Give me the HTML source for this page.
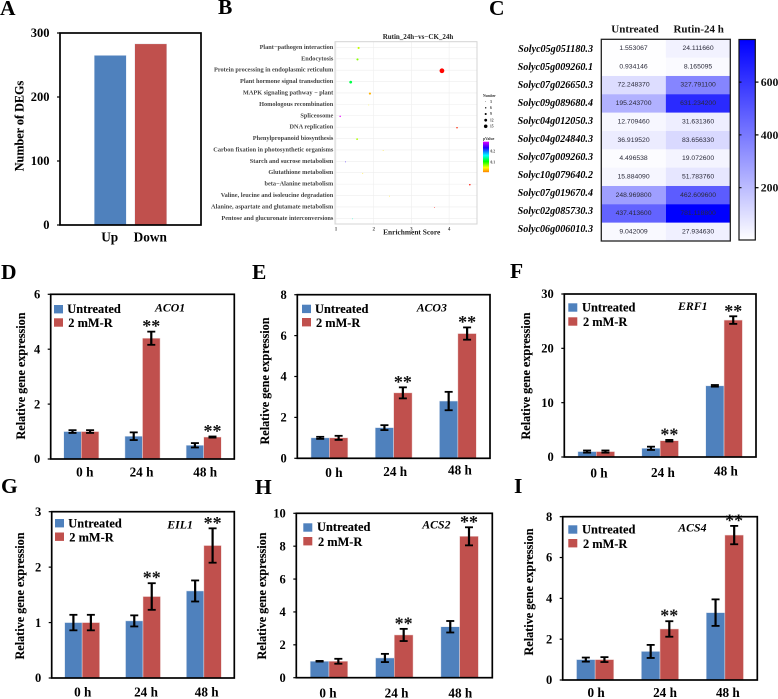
<!DOCTYPE html>
<html lang="en">
<head>
<meta charset="utf-8">
<title>Rutin treatment gene expression figure</title>
<style>
html,body{margin:0;padding:0;background:#fff;width:778px;height:699px;overflow:hidden}
svg{display:block;filter:blur(0.3px)}
text{font-family:"Liberation Serif",serif}
.letter{font-size:21.5px;font-weight:bold;fill:#000}
.ytitle{font-size:12.2px;font-weight:bold;fill:#000;text-anchor:middle;stroke:#000;stroke-width:0.12px}
.legend{font-size:12.4px;font-weight:bold;fill:#000;stroke:#000;stroke-width:0.12px}
.gene{font-size:11.8px;font-weight:bold;font-style:italic;fill:#000}
.swU{fill:#4f81bd}
.swR{fill:#c0504d}
</style>
</head>
<body>
<svg id="figure" xmlns="http://www.w3.org/2000/svg" width="778" height="699" viewBox="0 0 778 699">
<defs>
<linearGradient id="heatGradient" x1="0" y1="1" x2="0" y2="0"><stop offset="0" stop-color="#ffffff"/><stop offset="1" stop-color="#0000ff"/></linearGradient>
<linearGradient id="pGradient" x1="0" y1="1" x2="0" y2="0">
<stop offset="0" stop-color="#ff7f00"/><stop offset="0.15" stop-color="#ffff00"/><stop offset="0.35" stop-color="#00ff00"/><stop offset="0.55" stop-color="#00ffff"/><stop offset="0.8" stop-color="#2000ff"/><stop offset="1" stop-color="#e000ff"/>
</linearGradient>
</defs>

<text class="letter" x="0" y="15">A</text>
<text class="letter" x="218" y="14">B</text>
<text class="letter" x="489" y="15">C</text>
<text class="letter" x="1" y="279">D</text>
<text class="letter" x="252" y="279">E</text>
<text class="letter" x="510" y="278">F</text>
<text class="letter" x="1" y="493">G</text>
<text class="letter" x="255" y="494">H</text>
<text class="letter" x="514" y="493">I</text>

<text class="ytitle" transform="translate(23.5 126) rotate(-90)">Number of DEGs</text>
<text x="109.7" y="241.5" style="font-size:13.3px;font-weight:bold;text-anchor:middle">Up</text>
<text x="150.3" y="241.5" style="font-size:13.3px;font-weight:bold;text-anchor:middle">Down</text>

<text x="418" y="39" style="font-size:7px;font-weight:bold;text-anchor:middle;fill:#222">Rutin_24h−vs−CK_24h</text>
<text x="411.7" y="234.5" style="font-size:7.4px;font-weight:bold;text-anchor:middle;fill:#222">Enrichment Score</text>
<text x="483" y="97" style="font-size:3.6px;font-weight:bold;fill:#333">Number</text>
<text x="483" y="140" style="font-size:3.8px;font-weight:bold;fill:#333">pValue</text>
<rect x="483" y="141.7" width="6" height="30.5" fill="url(#pGradient)"/>
<text x="490.5" y="152.5" style="font-size:3.6px;font-weight:bold;fill:#333">0.2</text>
<text x="490.5" y="163.5" style="font-size:3.6px;font-weight:bold;fill:#333">0.1</text>

<text x="635" y="32.7" style="font-size:11px;font-weight:bold;text-anchor:middle;fill:#111">Untreated</text>
<text x="698.7" y="32.7" style="font-size:11px;font-weight:bold;text-anchor:middle;fill:#111">Rutin-24 h</text>
<rect x="739" y="39.5" width="16.3" height="200.5" fill="url(#heatGradient)" stroke="#111" stroke-width="1.2"/>

<text class="ytitle" transform="translate(25 376) rotate(-90)">Relative gene expression</text>
<text class="ytitle" transform="translate(269 381) rotate(-90)">Relative gene expression</text>
<text class="ytitle" transform="translate(530 376) rotate(-90)">Relative gene expression</text>
<text class="ytitle" transform="translate(24 596) rotate(-90)">Relative gene expression</text>
<text class="ytitle" transform="translate(266 596) rotate(-90)">Relative gene expression</text>
<text class="ytitle" transform="translate(533 592) rotate(-90)">Relative gene expression</text>

<g id="bars-d"></g>
<g id="bars-e"></g>
<g id="bars-f"></g>
<g id="bars-g"></g>
<g id="bars-h"></g>
<g id="bars-i"></g>
<g id="bars-a"></g>
<g id="dots-b"></g>
<g id="heat-c"></g>

<g>
<rect class="swU" x="54" y="305" width="9" height="8.4"/><text class="legend" x="67.3" y="313">Untreated</text>
<rect class="swR" x="54" y="318.3" width="9" height="8.4"/><text class="legend" x="68.3" y="327">2 mM-R</text>
<text class="gene" x="155" y="311.7">ACO1</text>
</g>
<g>
<rect class="swU" x="302" y="304.7" width="9" height="8.4"/><text class="legend" x="315" y="313">Untreated</text>
<rect class="swR" x="302" y="318" width="9" height="8.4"/><text class="legend" x="316" y="327">2 mM-R</text>
<text class="gene" x="416.7" y="311.7">ACO3</text>
</g>
<g>
<rect class="swU" x="568.3" y="303.3" width="9" height="8.4"/><text class="legend" x="582" y="311.5">Untreated</text>
<rect class="swR" x="568.3" y="317.3" width="9" height="8.4"/><text class="legend" x="583" y="326">2 mM-R</text>
<text class="gene" x="678" y="310">ERF1</text>
</g>
<g>
<rect class="swU" x="55" y="519" width="9" height="8.4"/><text class="legend" x="68.3" y="527.5">Untreated</text>
<rect class="swR" x="55" y="532.5" width="9" height="8.4"/><text class="legend" x="69.3" y="541.5">2 mM-R</text>
<text class="gene" x="167.3" y="528.3">EIL1</text>
</g>
<g>
<rect class="swU" x="303.3" y="523.3" width="9" height="8.4"/><text class="legend" x="317" y="531">Untreated</text>
<rect class="swR" x="303.3" y="537" width="9" height="8.4"/><text class="legend" x="318" y="546">2 mM-R</text>
<text class="gene" x="422.3" y="528.7">ACS2</text>
</g>
<g>
<rect class="swU" x="568.3" y="525.3" width="9" height="8.4"/><text class="legend" x="582" y="533.7">Untreated</text>
<rect class="swR" x="568.3" y="539" width="9" height="8.4"/><text class="legend" x="583" y="548">2 mM-R</text>
<text class="gene" x="678.3" y="531.7">ACS4</text>
</g>
</svg>

<script>
// ---------- Panel A data ----------
const degCategories = ['Up', 'Down'];
const degCounts = [265, 283];
const degTicks = [0, 100, 200, 300];

// ---------- Panels D-I data ----------
const timeCategories = ['0 h', '24 h', '48 h'];

const aco1Untreated = [1, 0.83, 0.5];
const aco1UntreatedErr = [0.05, 0.14, 0.08];
const aco1Treated = [1, 4.4, 0.8];
const aco1TreatedErr = [0.05, 0.24, 0.02];
const aco1Ticks = [0, 2, 4, 6];

const aco3Untreated = [1, 1.5, 2.8];
const aco3UntreatedErr = [0.05, 0.12, 0.45];
const aco3Treated = [1, 3.2, 6.1];
const aco3TreatedErr = [0.1, 0.27, 0.3];
const aco3Ticks = [0, 2, 4, 6, 8];

const erf1Untreated = [1, 1.6, 13.1];
const erf1UntreatedErr = [0.2, 0.3, 0.15];
const erf1Treated = [1, 3, 25.2];
const erf1TreatedErr = [0.2, 0.15, 0.7];
const erf1Ticks = [0, 10, 20, 30];

const eil1Untreated = [1, 1.03, 1.57];
const eil1UntreatedErr = [0.14, 0.1, 0.19];
const eil1Treated = [1, 1.47, 2.39];
const eil1TreatedErr = [0.14, 0.24, 0.31];
const eil1Ticks = [0, 1, 2, 3];

const acs2Untreated = [1, 1.2, 3.1];
const acs2UntreatedErr = [0.02, 0.25, 0.35];
const acs2Treated = [1, 2.6, 8.6];
const acs2TreatedErr = [0.15, 0.37, 0.55];
const acs2Ticks = [0, 2, 4, 6, 8, 10];

const acs4Untreated = [1, 1.4, 3.3];
const acs4UntreatedErr = [0.1, 0.32, 0.65];
const acs4Treated = [1, 2.5, 7.1];
const acs4TreatedErr = [0.12, 0.38, 0.45];
const acs4Ticks = [0, 2, 4, 6, 8];

const significantGroups = [false, true, true];

// ---------- Panel B data ----------
const pathwayNames = ['Plant−pathogen interaction', 'Endocytosis', 'Protein processing in endoplasmic reticulum', 'Plant hormone signal transduction', 'MAPK signaling pathway − plant', 'Homologous recombination', 'Spliceosome', 'DNA replication', 'Phenylpropanoid biosynthesis', 'Carbon fixation in photosynthetic organisms', 'Starch and sucrose metabolism', 'Glutathione metabolism', 'beta−Alanine metabolism', 'Valine, leucine and isoleucine degradation', 'Alanine, aspartate and glutamate metabolism', 'Pentose and glucuronate interconversions'];
const enrichmentScores = [1.60, 1.57, 3.81, 1.39, 1.90, 1.87, 1.11, 4.21, 1.56, 2.25, 1.25, 1.71, 4.55, 2.42, 3.61, 1.44];
const geneNumbers = [7, 7, 15, 9, 7, 3, 5, 5, 6, 3, 3, 3, 5, 3, 3, 3];
const pValues = [0.07, 0.085, 0.001, 0.13, 0.04, 0.055, 0.28, 0.008, 0.075, 0.05, 0.24, 0.05, 0.003, 0.05, 0.002, 0.16];
const enrichmentTicks = [1, 2, 3, 4];
const numberLegendValues = [3, 6, 9, 12, 15];

// ---------- Panel C data ----------
const heatGenes = ['Solyc05g051180.3', 'Solyc05g009260.1', 'Solyc07g026650.3', 'Solyc09g089680.4', 'Solyc04g012050.3', 'Solyc04g024840.3', 'Solyc07g009260.3', 'Solyc10g079640.2', 'Solyc07g019670.4', 'Solyc02g085730.3', 'Solyc06g006010.3'];
const heatUntreatedLabels = ['1.553067', '0.934146', '72.248370', '195.243700', '12.709460', '36.919520', '4.496538', '15.884090', '248.969800', '437.413600', '9.042009'];
const heatTreatedLabels = ['24.111660', '8.165095', '327.791100', '631.234200', '31.631360', '83.656330', '19.072600', '51.783760', '462.609600', '781.118800', '27.934630'];
const heatbarTicks = [200, 400, 600];

const SVGNS = 'http://www.w3.org/2000/svg';
function mk(parent, tag, attrs, txt) {
  const el = document.createElementNS(SVGNS, tag);
  for (const k in attrs) el.setAttribute(k, attrs[k]);
  if (txt !== undefined) el.textContent = txt;
  parent.appendChild(el);
  return el;
}

// ---------- Axis functions ----------
function yScale(f, top, v) { return f.y1 - (v / top) * (f.y1 - f.y0); }
function band(f, n) { return (f.x1 - f.x0) / n; }
function xCenter(f, n, i) { return f.x0 + band(f, n) * (i + 0.5); }

function drawYAxis(g, f, ticks) {
  const top = ticks[ticks.length - 1];
  ticks.forEach(function (t) {
    const y = yScale(f, top, t);
    let el = mk(g, 'line', { x1: f.x0 - 3, x2: f.x0, y1: y, y2: y, stroke: '#000', 'stroke-width': 1.2 });
    
    
    el = mk(g, 'text', { x: f.x0 - 10.5, y: y + 4.2, 'text-anchor': 'end', 'font-size': 12.5, 'font-weight': 'bold', fill: '#000' }, String(t));
    
    
  });
}

function drawFrame(g, f) {
  const el = mk(g, 'rect', { x: f.x0, y: f.y0, width: f.x1 - f.x0, height: f.y1 - f.y0, fill: 'none', stroke: '#000', 'stroke-width': 1.7 });
  
  
}

function drawErr(g, x, yTop, yBot) {
  let el = mk(g, 'line', { x1: x, x2: x, y1: yTop, y2: yBot, stroke: '#000', 'stroke-width': 2.2 });
  
  
  el = mk(g, 'line', { x1: x - 4, x2: x + 4, y1: yTop, y2: yTop, stroke: '#000', 'stroke-width': 1.8 });
  
  
  el = mk(g, 'line', { x1: x - 4, x2: x + 4, y1: yBot, y2: yBot, stroke: '#000', 'stroke-width': 1.8 });
  
  
}

function drawBarPanel(id, f, untreated, uErr, treated, tErr, ticks, labelDx, labelY) {
  const g = document.getElementById(id);
  const top = ticks[ticks.length - 1];
  const n = timeCategories.length;
  const w = band(f, n) * 0.287;
  timeCategories.forEach(function (cat, i) {
    const cx = xCenter(f, n, i);
    const yU = yScale(f, top, untreated[i]);
    const yT = yScale(f, top, treated[i]);
    let el = mk(g, 'rect', { x: cx - w, y: yU, width: w, height: f.y1 - yU, fill: '#4f81bd', stroke: '#dfe7f2', 'stroke-width': 0.5 });
    
    
    el = mk(g, 'rect', { x: cx, y: yT, width: w, height: f.y1 - yT, fill: '#c0504d', stroke: '#f0dcdb', 'stroke-width': 0.5 });
    
    
    drawErr(g, cx - w / 2, yScale(f, top, untreated[i] + uErr[i]), yScale(f, top, untreated[i] - uErr[i]));
    const tTop = yScale(f, top, treated[i] + tErr[i]);
    drawErr(g, cx + w / 2, tTop, yScale(f, top, treated[i] - tErr[i]));
    if (significantGroups[i]) {
      el = mk(g, 'text', { x: cx + w / 2, y: tTop + 0.5, 'text-anchor': 'middle', 'font-size': 18, 'font-weight': 'bold', fill: '#111' }, '**');
      
      
    }
    el = mk(g, 'text', { x: cx + labelDx[i], y: labelY[i], 'text-anchor': 'middle', 'font-size': 13.2, 'font-weight': 'bold', fill: '#000' }, cat);
    
    
  });
  drawYAxis(g, f, ticks);
  drawFrame(g, f);
}

drawBarPanel('bars-d', { x0: 50.7, x1: 234.3, y0: 294.3, y1: 459 }, aco1Untreated, aco1UntreatedErr, aco1Treated, aco1TreatedErr, aco1Ticks, [3.5, -1, 1.5], [476.7, 476.7, 476.7]);
drawBarPanel('bars-e', { x0: 297.3, x1: 490, y0: 294.7, y1: 458.3 }, aco3Untreated, aco3UntreatedErr, aco3Treated, aco3TreatedErr, aco3Ticks, [4.5, 1.5, 2], [477, 476, 474.5]);
drawBarPanel('bars-f', { x0: 564.3, x1: 756, y0: 294, y1: 457 }, erf1Untreated, erf1UntreatedErr, erf1Treated, erf1TreatedErr, erf1Ticks, [2.7, 2.8, 1.9], [477.7, 477, 475.5]);
drawBarPanel('bars-g', { x0: 51.7, x1: 234.3, y0: 511.7, y1: 678 }, eil1Untreated, eil1UntreatedErr, eil1Treated, eil1TreatedErr, eil1Ticks, [0.6, 3, 2.8], [696.7, 696.7, 696.7]);
drawBarPanel('bars-h', { x0: 296.3, x1: 492.3, y0: 513.3, y1: 677.7 }, acs2Untreated, acs2UntreatedErr, acs2Treated, acs2TreatedErr, acs2Ticks, [-1, 2.3, 0.7], [697.5, 697.5, 697.5]);
drawBarPanel('bars-i', { x0: 562.7, x1: 757.3, y0: 516.7, y1: 680 }, acs4Untreated, acs4UntreatedErr, acs4Treated, acs4TreatedErr, acs4Ticks, [1, 5, 3], [697, 697, 697]);

// ---------- Panel A ----------
(function () {
  const g = document.getElementById('bars-a');
  const f = { x0: 60, x1: 201, y0: 33, y1: 225 };
  const top = degTicks[degTicks.length - 1];
  const colors = ['#4f81bd', '#c0504d'];
  const center = (f.x0 + f.x1) / 2;
  degCategories.forEach(function (cat, i) {
    const y = yScale(f, top, degCounts[i]);
    const x = center + (i - 0.5) * 40.5 - 16;
    const el = mk(g, 'rect', { x: x, y: y, width: 32, height: f.y1 - y, fill: colors[i], stroke: '#e6edf5', 'stroke-width': 0.4 });
    
    
  });
  drawYAxis(g, f, degTicks);
  drawFrame(g, f);
})();

// ---------- Panel B ----------
(function () {
  const g = document.getElementById('dots-b');
  const f = { x0: 335, x1: 477, y0: 41.7, y1: 224 };
  const rows = pathwayNames.length;
  const rowH = (f.y1 - f.y0) / rows;
  const xPx = function (s) { return 336 + (s - 1) * 37.7; };
  const yPx = function (i) { return f.y0 + rowH * (i + 0.5); };
  const radius = function (n) { return 0.4 + (n - 3) * 0.165; };
  const color = function (p) { return 'hsl(' + Math.round(p * 1050) + ',100%,50%)'; };
  enrichmentTicks.forEach(function (t) {
    let el = mk(g, 'line', { x1: xPx(t), x2: xPx(t), y1: f.y0, y2: f.y1, stroke: '#eeeeee', 'stroke-width': 0.6 });
    
    
    el = mk(g, 'text', { x: xPx(t), y: 230.5, 'text-anchor': 'middle', 'font-size': 5, 'font-weight': 'bold', fill: '#444' }, String(t));
    
    
  });
  pathwayNames.forEach(function (name, i) {
    const y = yPx(i);
    let el = mk(g, 'line', { x1: f.x0, x2: f.x1, y1: y, y2: y, stroke: '#eeeeee', 'stroke-width': 0.6 });
    
    
    el = mk(g, 'text', { x: 333.3, y: y + 1.5, 'text-anchor': 'end', 'font-size': 6.3, 'font-weight': 'bold', fill: '#444' }, name);
    
    
    el = mk(g, 'circle', { cx: xPx(enrichmentScores[i]), cy: y + 0.6, r: radius(geneNumbers[i]), fill: color(pValues[i]) });
    
    
  });
  const frame = mk(g, 'rect', { x: f.x0, y: f.y0, width: f.x1 - f.x0, height: f.y1 - f.y0, fill: 'none', stroke: '#d4d4d4', 'stroke-width': 1 });
  
  
  numberLegendValues.forEach(function (n, i) {
    const y = 101.7 + i * 6.15;
    let el = mk(g, 'circle', { cx: 485.7, cy: y, r: radius(n) * 0.75, fill: '#000' });
    
    
    el = mk(g, 'text', { x: 490, y: y + 1.2, 'font-size': 3.6, 'font-weight': 'bold', fill: '#333' }, String(n));
    
    
  });
})();

// ---------- Panel C ----------
(function () {
  const g = document.getElementById('heat-c');
  const f = { x0: 601.3, x1: 730.3, y0: 39.3, y1: 241 };
  const rows = heatGenes.length;
  const rowH = (f.y1 - f.y0) / rows;
  const colW = (f.x1 - f.x0) / 2;
  const columns = [heatUntreatedLabels, heatTreatedLabels];
  const maxVal = Math.max.apply(null, heatTreatedLabels.map(Number));
  const color = function (v) {
    const k = Math.round(255 * (1 - Math.pow(v / maxVal, 0.85)));
    return 'rgb(' + k + ',' + k + ',255)';
  };
  heatGenes.forEach(function (gene, r) {
    let el = mk(g, 'text', { x: 593, y: 51.8 + r * 18.03, 'text-anchor': 'end', 'font-size': 10.1, 'font-weight': 'bold', 'font-style': 'italic', fill: '#000' }, gene);
    
    
    columns.forEach(function (col, c) {
      const x = f.x0 + c * colW;
      const y = f.y0 + r * rowH;
      el = mk(g, 'rect', { x: x, y: y, width: colW, height: rowH + 0.2, fill: color(Number(col[r])) });
      
      
      el = mk(g, 'text', { x: x + colW / 2, y: y + rowH / 2 + 1.6, 'text-anchor': 'middle', 'font-size': 6.8, fill: '#2a2a3a', style: 'font-family:"Liberation Sans",sans-serif' }, col[r]);
      
      
    });
  });
  const frame = mk(g, 'rect', { x: f.x0, y: f.y0, width: f.x1 - f.x0, height: f.y1 - f.y0, fill: 'none', stroke: '#222', 'stroke-width': 1.3 });
  
  
  heatbarTicks.forEach(function (t) {
    const y = 187.7 - (t - 200) * 0.264;
    let el = mk(g, 'line', { x1: 755.3, x2: 758.5, y1: y, y2: y, stroke: '#000', 'stroke-width': 1.2 });
    
    
    el = mk(g, 'line', { x1: 739, x2: 741.5, y1: y, y2: y, stroke: '#000', 'stroke-width': 1 });
    
    
    el = mk(g, 'text', { x: 760.7, y: y + 4, 'font-size': 11.8, 'font-weight': 'bold', fill: '#111' }, String(t));
    
    
  });
})();
</script>
</body>
</html>
